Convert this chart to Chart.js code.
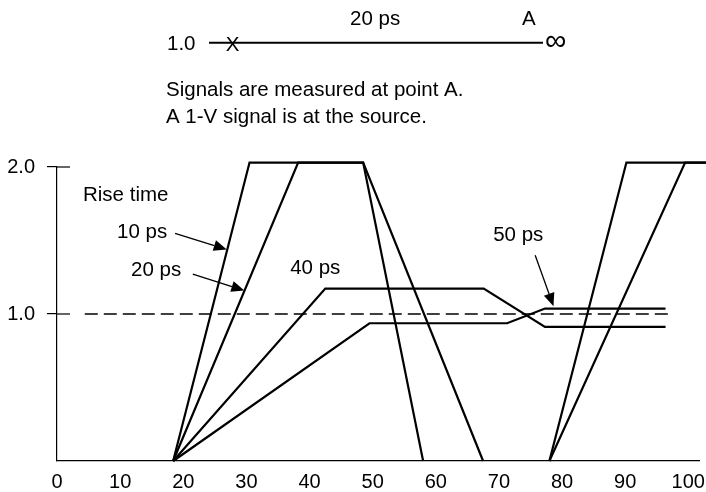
<!DOCTYPE html>
<html>
<head>
<meta charset="utf-8">
<script src="https://cdn.jsdelivr.net/npm/chart.js@4.4.1/dist/chart.umd.min.js"></script>
<style>
  html, body { margin: 0; padding: 0; background: #fff; }
  #wrap { position: relative; width: 706px; height: 492px; }
</style>
</head>
<body>
<div id="wrap"><canvas id="rise-chart"></canvas></div>
<script>
// x ticks (ps) and y ticks (V)
var xTicks = [0, 10, 20, 30, 40, 50, 60, 70, 80, 90, 100];
var yTicks = [1.0, 2.0];

// 10 ps rise time: first pulse and second edge
var pulse10X = [18.4, 30.5, 48.5, 58.0];
var pulse10Y = [0, 2.03, 2.03, 0];
var edge10X = [78.0, 90.2, 102.9];
var edge10Y = [0, 2.03, 2.03];

// 20 ps rise time
var pulse20X = [18.4, 38.2, 48.5, 67.5];
var pulse20Y = [0, 2.03, 2.03, 0];
var edge20X = [78.0, 99.5, 102.9];
var edge20Y = [0, 2.03, 2.03];

// 40 ps and 50 ps rise time
var rise40X = [18.4, 42.5, 67.6, 77.3, 96.4];
var rise40Y = [0, 1.173, 1.173, 0.912, 0.912];
var rise50X = [18.4, 49.5, 71.3, 77.3, 96.4];
var rise50Y = [0, 0.937, 0.937, 1.037, 1.037];

// 1.0 V reference line
var refX = [4.4, 97.1];
var refY = [1.0, 1.0];

// labels in the plot (data coords, left / baseline)
var noteText = ['Rise time', '10 ps', '20 ps', '40 ps', '50 ps'];
var noteX = [4.12, 9.51, 11.73, 36.93, 69.10];
var noteY = [1.770, 1.514, 1.257, 1.271, 1.498];

// arrows: from -> tip
var arrowFromX = [18.70, 21.51, 75.75];
var arrowFromY = [1.548, 1.271, 1.400];
var arrowToX = [26.89, 29.68, 78.65];
var arrowToY = [1.439, 1.160, 1.053];

var FONT = '"Liberation Sans", Arial, Helvetica, sans-serif';

function pts(xs, ys) {
  return xs.map(function(x, i) { return { x: x, y: ys[i] }; });
}

function curve(xs, ys) {
  return {
    data: pts(xs, ys),
    borderColor: '#000',
    borderWidth: 2.2,
    borderJoinStyle: 'miter',
    pointRadius: 0,
    fill: false,
    clip: false
  };
}

var refSet = curve(refX, refY);
refSet.borderWidth = 1.3;
refSet.borderDash = [13, 6];

function arrow(ctx, x1, y1, x2, y2) {
  var ang = Math.atan2(y2 - y1, x2 - x1);
  var len = 13, half = 5.5;
  var bx = x2 - len * Math.cos(ang), by = y2 - len * Math.sin(ang);
  ctx.beginPath();
  ctx.moveTo(x1, y1);
  ctx.lineTo(bx, by);
  ctx.lineWidth = 1.3;
  ctx.stroke();
  ctx.beginPath();
  ctx.moveTo(x2, y2);
  ctx.lineTo(bx + half * Math.sin(ang), by - half * Math.cos(ang));
  ctx.lineTo(bx - half * Math.sin(ang), by + half * Math.cos(ang));
  ctx.closePath();
  ctx.fill();
}

var notes = {
  id: 'notes',
  afterDraw: function(chart) {
    var ctx = chart.ctx;
    var xs = chart.scales.x, ys = chart.scales.y;
    var area = chart.chartArea;
    ctx.save();
    ctx.fillStyle = '#000';
    ctx.strokeStyle = '#000';

    // inner half of y tick marks
    ctx.lineWidth = 1.2;
    yTicks.forEach(function(v) {
      var py = ys.getPixelForValue(v);
      ctx.beginPath();
      ctx.moveTo(area.left, py);
      ctx.lineTo(area.left + 13, py);
      ctx.stroke();
    });

    ctx.font = '20.5px ' + FONT;
    ctx.textBaseline = 'alphabetic';
    ctx.textAlign = 'left';
    noteText.forEach(function(t, i) {
      ctx.fillText(t, xs.getPixelForValue(noteX[i]), ys.getPixelForValue(noteY[i]));
    });
    arrowFromX.forEach(function(x, i) {
      arrow(ctx, xs.getPixelForValue(x), ys.getPixelForValue(arrowFromY[i]),
        xs.getPixelForValue(arrowToX[i]), ys.getPixelForValue(arrowToY[i]));
    });

    // line schematic at top
    ctx.fillText('1.0', 167, 50);
    ctx.fillText('20 ps', 350, 25);
    ctx.fillText('A', 522, 25);
    ctx.fillText('Signals are measured at point A.', 166, 96);
    ctx.fillText('A 1-V signal is at the source.', 166, 123);
    ctx.lineWidth = 2;
    ctx.beginPath();
    ctx.moveTo(209, 42.7);
    ctx.lineTo(543, 42.7);
    ctx.stroke();
    ctx.textAlign = 'center';
    ctx.fillText('X', 232.5, 50.5);
    ctx.textAlign = 'left';
    ctx.textBaseline = 'middle';
    ctx.font = '30px ' + FONT;
    ctx.fillText('\u221E', 545, 42);
    ctx.restore();
  }
};

var ctx = document.getElementById('rise-chart').getContext('2d');
var riseChart = new Chart(ctx, {
  type: 'line',
  data: {
    datasets: [
      curve(pulse10X, pulse10Y),
      curve(edge10X, edge10Y),
      curve(pulse20X, pulse20Y),
      curve(edge20X, edge20Y),
      curve(rise40X, rise40Y),
      curve(rise50X, rise50Y),
      refSet
    ]
  },
  options: {
    responsive: true,
    maintainAspectRatio: false,
    animation: false,
    events: [],
    layout: { padding: { top: 167, right: 7, left: 0, bottom: 0 } },
    plugins: { legend: { display: false }, tooltip: { enabled: false } },
    scales: {
      x: {
        type: 'linear',
        min: 0,
        max: 101.7,
        afterBuildTicks: function(s) { s.ticks = xTicks.map(function(v) { return { value: v }; }); },
        afterFit: function(s) { s.height = 31; s.paddingLeft = 0; s.paddingRight = 0; },
        grid: { display: false, drawTicks: false },
        border: { color: '#000', width: 1.2 },
        ticks: { color: '#000', padding: 9, maxRotation: 0, font: { family: FONT, size: 20 } }
      },
      y: {
        type: 'linear',
        min: 0,
        max: 2,
        afterBuildTicks: function(s) { s.ticks = yTicks.map(function(v) { return { value: v }; }); },
        afterFit: function(s) { s.width = 57; s.paddingTop = 0; s.paddingBottom = 0; },
        grid: { drawOnChartArea: false, drawTicks: true, tickLength: 10, tickColor: '#000', lineWidth: 1.2 },
        border: { color: '#000', width: 1.2 },
        ticks: {
          color: '#000', padding: 12, font: { family: FONT, size: 20 },
          callback: function(v) { return v.toFixed(1); }
        }
      }
    }
  },
  plugins: [notes]
});
</script>
</body>
</html>
